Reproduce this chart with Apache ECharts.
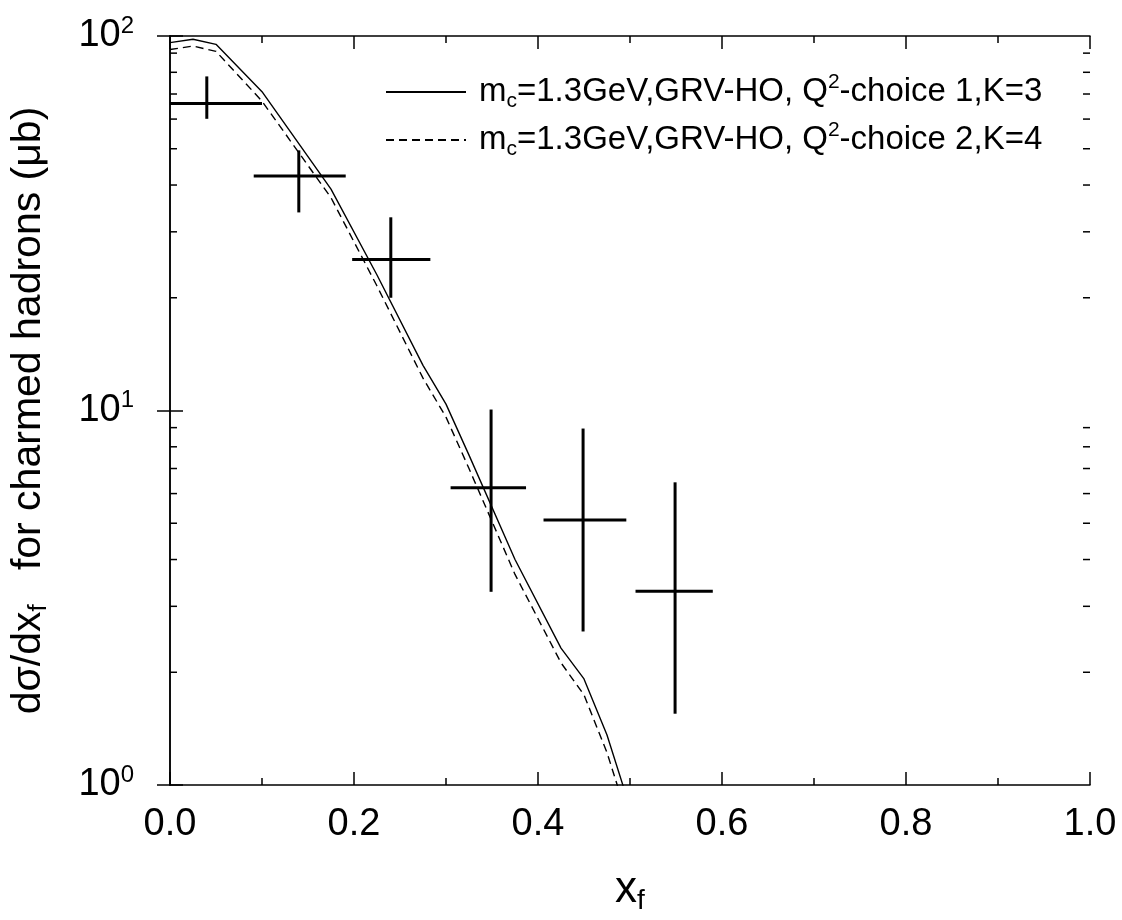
<!DOCTYPE html>
<html>
<head>
<meta charset="utf-8">
<script src="https://cdn.jsdelivr.net/npm/echarts@6/dist/echarts.min.js"></script>
<style>html,body{margin:0;padding:0;background:#fff}#c{width:1122px;height:920px}</style>
</head>
<body>
<div id="c"></div>
<script>
// ---- data ----
const xCurve   = [0, 0.025, 0.05, 0.1, 0.175, 0.225, 0.275, 0.3, 0.325, 0.375, 0.425, 0.45, 0.475, 0.5];
const solidK3  = [96, 98, 95, 71, 39, 23, 13.2, 10.4, 7.6, 4.0, 2.32, 1.92, 1.36, 0.87];
const dashedK4 = [92, 94, 91, 67, 37, 21.5, 12.2, 9.6, 7.0, 3.65, 2.12, 1.74, 1.22, 0.78];

const dataX     = [0.04, 0.14, 0.24, 0.349, 0.449, 0.549];
const dataXLow  = [0.0, 0.091, 0.198, 0.305, 0.406, 0.506];
const dataXHigh = [0.1, 0.191, 0.283, 0.387, 0.496, 0.590];
const dataY     = [66, 42.3, 25.3, 6.22, 5.10, 3.29];
const dataYLow  = [60.1, 33.8, 20, 3.28, 2.57, 1.55];
const dataYHigh = [78, 49.5, 32.8, 10.06, 8.95, 6.43];

const minorYTicks = [2,3,4,5,6,7,8,9,20,30,40,50,60,70,80,90];
const seriesNames = [
  '{n|m}{sub|c}{n|=1.3GeV,GRV-HO, Q}{sup|2}{n|-choice 1,K=3}',
  '{n|m}{sub|c}{n|=1.3GeV,GRV-HO, Q}{sup|2}{n|-choice 2,K=4}'
];

const FONT = "'Liberation Sans', Arial, sans-serif";
const chart = echarts.init(document.getElementById('c'));

const errData = dataX.map((x, i) => [x, dataY[i], dataXLow[i], dataXHigh[i], dataYLow[i], dataYHigh[i]]);

const legendRich = {
  n: {fontSize: 33, fontFamily: FONT, color: '#000', lineHeight: 40},
  sub: {fontSize: 21, fontFamily: FONT, color: '#000', lineHeight: 20, verticalAlign: 'bottom'},
  sup: {fontSize: 21, fontFamily: FONT, color: '#000', lineHeight: 20, verticalAlign: 'top'}
};

const option = {
  animation: false,
  backgroundColor: '#fff',
  grid: {left: 170, right: 32, top: 36, bottom: 124},
  legend: {
    orient: 'vertical', left: 380, top: 67, itemGap: 8,
    itemWidth: 80, itemHeight: 2,
    data: ['K3', 'K4'],
    itemStyle: {opacity: 0},
    formatter: n => n === 'K3' ? seriesNames[0] : seriesNames[1],
    textStyle: {rich: legendRich, padding: [0, 0, 0, 8]}
  },
  xAxis: [{
    type: 'value', min: 0, max: 1, interval: 0.2,
    position: 'bottom',
    axisLine: {lineStyle: {color: '#000', width: 1.5}},
    axisTick: {inside: true, length: 13, lineStyle: {color: '#000', width: 1.5}},
    minorTick: {show: true, splitNumber: 2, length: 7, lineStyle: {color: '#000', width: 1.5}},
    splitLine: {show: false},
    axisLabel: {fontSize: 38, fontFamily: FONT, color: '#000', margin: 21, formatter: v => v.toFixed(1)},
    name: '{n|x}{sub|f}', nameLocation: 'middle', nameGap: 80,
    nameTextStyle: {rich: {
      n: {fontSize: 44, fontFamily: FONT, color: '#000', lineHeight: 50},
      sub: {fontSize: 28, fontFamily: FONT, color: '#000', lineHeight: 28, verticalAlign: 'bottom'}
    }}
  }, {
    type: 'value', min: 0, max: 1, interval: 0.2, position: 'top',
    axisLine: {lineStyle: {color: '#000', width: 1.5}},
    axisTick: {inside: true, length: 13, lineStyle: {color: '#000', width: 1.5}},
    minorTick: {show: true, splitNumber: 2, length: 7, lineStyle: {color: '#000', width: 1.5}},
    splitLine: {show: false}, axisLabel: {show: false}
  }],
  yAxis: [{
    type: 'log', logBase: 10, min: 1, max: 100, position: 'left',
    axisLine: {lineStyle: {color: '#000', width: 1.5}},
    axisTick: {inside: true, length: 13, lineStyle: {color: '#000', width: 1.5}},
    splitLine: {show: false},
    axisLabel: {
      margin: 36, color: '#000',
      formatter: v => '{b|10}{s|' + Math.round(Math.log10(v)) + '}',
      rich: {
        b: {fontSize: 38, fontFamily: FONT, color: '#000', lineHeight: 44},
        s: {fontSize: 24, fontFamily: FONT, color: '#000', lineHeight: 24, verticalAlign: 'top'}
      }
    },
    name: '{n|dσ/dx}{sub|f}{n|   for charmed hadrons (μb)}',
    nameLocation: 'middle', nameGap: 118,
    nameTextStyle: {rich: {
      n: {fontSize: 41, fontFamily: FONT, color: '#000', lineHeight: 46},
      sub: {fontSize: 26, fontFamily: FONT, color: '#000', lineHeight: 26, verticalAlign: 'bottom'}
    }}
  }, {
    type: 'log', logBase: 10, min: 1, max: 100, position: 'right',
    axisLine: {lineStyle: {color: '#000', width: 1.5}},
    axisTick: {inside: true, length: 13, lineStyle: {color: '#000', width: 1.5}},
    splitLine: {show: false}, axisLabel: {show: false}
  }],
  series: [
    {
      name: 'K3', type: 'line', symbol: 'none', clip: true,
      data: xCurve.map((x, i) => [x, solidK3[i]]),
      lineStyle: {color: '#000', width: 1.4, type: 'solid'},
      itemStyle: {color: '#000'}
    },
    {
      name: 'K4', type: 'line', symbol: 'none', clip: true,
      data: xCurve.map((x, i) => [x, dashedK4[i]]),
      lineStyle: {color: '#000', width: 1.4, type: [8, 5]},
      itemStyle: {color: '#000'}
    },
    {
      name: 'data', type: 'custom', clip: true,
      encode: {x: 0, y: 1},
      data: errData,
      renderItem: (params, api) => {
        const xc = api.value(0), y = api.value(1), xl = api.value(2), xh = api.value(3), yl = api.value(4), yh = api.value(5);
        const pL = api.coord([xl, y]), pR = api.coord([xh, y]);
        const pT = api.coord([xc, yh]), pB = api.coord([xc, yl]);
        return {type: 'group', children: [
          {type: 'line', shape: {x1: pL[0], y1: pL[1], x2: pR[0], y2: pR[1]}, style: {stroke: '#000', lineWidth: 3}},
          {type: 'line', shape: {x1: pT[0], y1: pT[1], x2: pB[0], y2: pB[1]}, style: {stroke: '#000', lineWidth: 3}}
        ]};
      }
    },
    {
      name: 'minorY', type: 'custom', clip: false, silent: true,
      encode: {y: 0},
      data: minorYTicks.map(v => [v]),
      renderItem: (params, api) => {
        const v = api.value(0);
        const pL = api.coord([0, v]), pR = api.coord([1, v]);
        return {type: 'group', children: [
          {type: 'line', shape: {x1: pL[0], y1: pL[1], x2: pL[0] + 7, y2: pL[1]}, style: {stroke: '#000', lineWidth: 1.5}},
          {type: 'line', shape: {x1: pR[0], y1: pR[1], x2: pR[0] - 7, y2: pR[1]}, style: {stroke: '#000', lineWidth: 1.5}}
        ]};
      }
    }
  ]
};
chart.setOption(option);
</script>
</body>
</html>
